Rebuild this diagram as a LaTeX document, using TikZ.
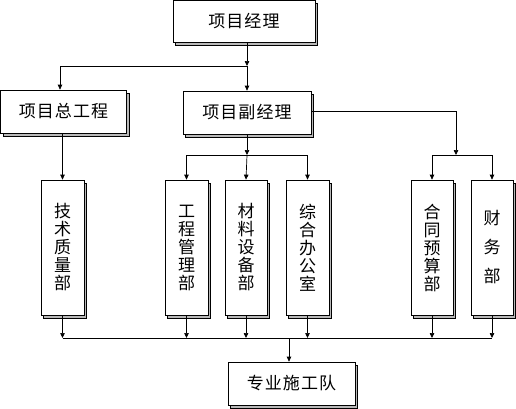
\documentclass[tikz,border=0pt]{standalone}
\usepackage{fontspec}
\setmainfont{Noto Sans CJK SC}[LetterSpace=6]
\usetikzlibrary{arrows.meta}
\begin{document}
\begin{tikzpicture}[x=1pt,y=-1pt,
  line width=0.7pt,
  boxs/.style={draw=black,fill=white,inner sep=0pt,font=\fontsize{17}{18}\selectfont,
    align=center,
    preaction={fill=gray!55,draw=black,line width=0.5pt,transform canvas={shift={(2.5pt,-3pt)}}}},
  hbox/.style={boxs,minimum height=43pt},
  vbox/.style={boxs,minimum width=43pt,minimum height=135pt},
  arr/.style={-{Triangle[width=4.5pt,length=5pt]}}]
\useasboundingbox (0,0) rectangle (516,408);
% nodes
\node[hbox,minimum width=142pt,minimum height=42pt] (pm) at (244,21) {项目经理};
\node[hbox,minimum width=126pt] (zg) at (63.5,111.5) {项目总工程};
\node[hbox,minimum width=128pt] (fj) at (247,112.5) {项目副经理};
\node[vbox] (js) at (62.5,247.5) {技\\术\\质\\量\\部};
\node[vbox] (gc) at (186.5,247.5) {工\\程\\管\\理\\部};
\node[vbox,minimum width=42pt] (cl) at (246,247.5) {材\\料\\设\\备\\部};
\node[vbox] (zh) at (307.5,247.5) {综\\合\\办\\公\\室};
\node[vbox,minimum width=42pt] (ht) at (432,247.5) {合\\同\\预\\算\\部};
\node[vbox,minimum width=42pt,font=\fontsize{17}{29}\selectfont] (cw) at (492,247.5) {财\\务\\部};
\node[hbox,minimum width=127pt] (zy) at (291.5,383.5) {专业施工队};
% coordinates
\coordinate (j1) at (247,66);
\coordinate (k1) at (60,66);
\coordinate (j2) at (247,155);
\coordinate (r1) at (456,111);
\coordinate (j3) at (456,155);
\coordinate (b1) at (289,338);
% connectors top
\draw[arr] (j1 |- pm.south) -- (j1);
\draw (j1) -- (k1);
\draw[arr] (k1) -- (k1 |- zg.north);
\draw[arr] (j1) -- (j1 |- fj.north);
% left column
\draw[arr] (js.north |- zg.south) -- (js.north);
% middle group
\draw[arr] (fj.south -| j2) -- (j2);
\draw (gc.north |- j2) -- (zh.north |- j2);
\draw[arr] (gc.north |- j2) -- (gc.north);
\draw[arr] (j2) -- (cl.north);
\draw[arr] (zh.north |- j2) -- (zh.north);
% right group
\draw (fj.east |- r1) -- (r1);
\draw[arr] (r1) -- (j3);
\draw (ht.north |- j3) -- (cw.north |- j3);
\draw[arr] (ht.north |- j3) -- (ht.north);
\draw[arr] (cw.north |- j3) -- (cw.north);
% bottom bus
\foreach \n in {js,gc,cl,zh,ht,cw}{
  \draw[arr] (\n.south) -- (\n.south |- b1);
}
\draw (js.south |- b1) -- (cw.south |- b1);
\draw[arr] (b1) -- (b1 |- zy.north);
\end{tikzpicture}
\end{document}
